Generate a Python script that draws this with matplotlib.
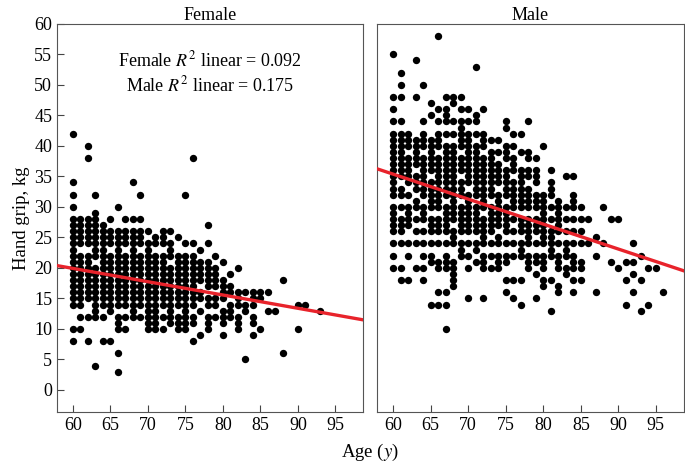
import numpy as np
import matplotlib.pyplot as plt

# hand grip values (kg) per age (years)
female = {
    60: [42, 34, 32, 30, 28, 27, 26, 25, 24, 23, 22, 21, 20, 19, 18, 17, 16, 15, 14, 10, 8],
    61: [28, 27, 26, 25, 24, 22, 21, 20, 19, 18, 17, 16, 15, 14, 12, 10],
    62: [40, 38, 28, 27, 26, 25, 24, 22, 21, 20, 19, 18, 17, 16, 15, 12, 8],
    63: [32, 29, 28, 27, 26, 25, 24, 23, 22, 20, 19, 18, 17, 16, 15, 14, 13, 12, 4],
    64: [27, 26, 25, 24, 23, 22, 21, 20, 19, 18, 17, 16, 15, 14, 12, 8],
    65: [28, 26, 25, 24, 22, 21, 20, 19, 18, 17, 16, 15, 14, 13, 8],
    66: [30, 26, 25, 24, 23, 22, 21, 20, 19, 18, 17, 16, 15, 14, 12, 11, 10, 6, 3],
    67: [28, 26, 25, 24, 22, 21, 20, 19, 18, 17, 16, 15, 14, 12, 10],
    68: [34, 28, 26, 25, 24, 23, 22, 21, 20, 19, 18, 17, 16, 15, 14, 13, 12],
    69: [32, 28, 26, 25, 24, 22, 21, 20, 19, 18, 17, 16, 15, 14, 12],
    70: [26, 24, 23, 22, 21, 20, 19, 18, 17, 16, 15, 14, 13, 12, 11, 10],
    71: [25, 24, 22, 21, 20, 19, 18, 17, 16, 15, 14, 13, 12, 11, 10],
    72: [26, 25, 24, 22, 21, 20, 19, 18, 17, 16, 15, 14, 12, 10],
    73: [26, 24, 23, 22, 20, 19, 18, 17, 16, 15, 14, 13, 12, 11],
    74: [25, 22, 21, 20, 19, 18, 17, 16, 15, 14, 12, 11, 10],
    75: [32, 24, 22, 21, 20, 19, 18, 17, 16, 15, 14, 13, 12, 11, 10],
    76: [38, 24, 22, 21, 20, 19, 18, 17, 16, 15, 14, 12, 11, 8],
    77: [23, 21, 20, 19, 18, 16, 15, 13, 9],
    78: [27, 24, 21, 20, 19, 18, 17, 15, 14, 12, 11, 10],
    79: [22, 20, 19, 18, 17, 15, 14, 12],
    80: [21, 18, 17, 16, 15, 13, 12, 11, 9],
    81: [19, 17, 16, 14, 13, 12],
    82: [20, 16, 15, 14, 12, 11, 10],
    83: [16, 14, 13, 5],
    84: [16, 15, 14, 12, 11, 9],
    85: [16, 15, 10],
    86: [16, 13],
    87: [13],
    88: [18, 6],
    90: [14, 10],
    91: [14],
    93: [13],
}

male = {
    60: [55, 48, 46, 44, 42, 41, 40, 39, 38, 37, 36, 35, 34, 33, 32, 30, 29, 28, 27, 26, 24, 22, 20],
    61: [52, 50, 48, 44, 42, 41, 40, 39, 38, 37, 36, 35, 33, 32, 30, 28, 27, 26, 24, 20, 18],
    62: [42, 41, 40, 38, 37, 36, 35, 34, 32, 30, 29, 28, 27, 24, 22, 18],
    63: [54, 48, 41, 40, 39, 38, 37, 35, 34, 33, 31, 30, 28, 26, 24, 20],
    64: [50, 44, 42, 41, 40, 38, 37, 36, 35, 34, 33, 32, 30, 29, 28, 26, 24, 22, 20, 18],
    65: [47, 45, 41, 40, 39, 38, 37, 36, 34, 33, 32, 31, 30, 28, 27, 26, 24, 22, 21, 14],
    66: [58, 46, 44, 42, 41, 40, 38, 37, 36, 35, 34, 33, 32, 31, 30, 28, 27, 26, 24, 21, 20, 16, 14],
    67: [48, 46, 45, 44, 42, 40, 39, 38, 37, 36, 35, 34, 33, 32, 30, 29, 28, 27, 26, 24, 22, 21, 20, 16, 14, 10],
    68: [48, 47, 44, 42, 40, 39, 38, 37, 36, 35, 34, 33, 32, 31, 30, 29, 28, 26, 25, 24, 21, 20, 19, 18, 17],
    69: [48, 46, 44, 43, 42, 41, 40, 38, 37, 36, 34, 33, 32, 30, 29, 28, 27, 26, 24, 23, 22],
    70: [46, 44, 42, 41, 40, 39, 38, 37, 36, 35, 34, 32, 31, 30, 29, 28, 27, 26, 24, 22, 20, 15],
    71: [53, 45, 44, 42, 40, 39, 38, 37, 36, 35, 34, 33, 32, 30, 29, 28, 27, 26, 24, 23, 21],
    72: [46, 42, 41, 40, 38, 37, 36, 35, 34, 33, 32, 31, 30, 28, 27, 26, 25, 24, 22, 21, 20, 15],
    73: [41, 39, 38, 37, 36, 35, 34, 33, 32, 30, 29, 28, 27, 26, 24, 22, 20],
    74: [41, 39, 37, 36, 35, 34, 32, 31, 30, 29, 28, 27, 25, 24, 22, 21, 20],
    75: [44, 43, 40, 39, 38, 36, 35, 34, 33, 32, 30, 29, 28, 27, 26, 24, 22, 21, 18, 16],
    76: [42, 40, 38, 37, 36, 34, 33, 32, 31, 30, 28, 26, 24, 22, 18, 15],
    77: [42, 39, 36, 35, 34, 33, 32, 31, 30, 28, 27, 26, 24, 23, 22, 18, 14],
    78: [44, 39, 38, 36, 35, 33, 32, 31, 30, 28, 27, 26, 25, 24, 22, 21, 20],
    79: [38, 36, 35, 34, 32, 31, 30, 28, 27, 26, 24, 22, 21, 19, 15],
    80: [40, 32, 31, 30, 29, 28, 27, 26, 25, 24, 22, 21, 20, 18, 17],
    81: [36, 34, 33, 32, 30, 28, 26, 25, 24, 23, 22, 18, 13],
    82: [31, 30, 29, 28, 27, 26, 24, 22, 21, 20, 17, 16],
    83: [35, 30, 28, 26, 24, 23, 22, 20, 19],
    84: [35, 32, 31, 30, 28, 26, 24, 22, 21, 20, 18, 16],
    85: [30, 28, 26, 24, 21, 20, 18],
    86: [28, 24],
    87: [25, 22, 16],
    88: [30, 24],
    89: [28, 21],
    90: [28, 20],
    91: [21, 18, 14],
    92: [24, 21, 19, 16],
    93: [22, 18, 13],
    94: [20, 14],
    95: [20],
    96: [16],
}

# linear fits (intercept, slope)
fit_female = (33.0, -0.218)
fit_male = (59.9, -0.409)

r2_text = ["Female $R^2$ linear = 0.092", "Male $R^2$ linear = 0.175"]
xticks = [60, 65, 70, 75, 80, 85, 90, 95]
yticks = list(range(0, 61, 5))

plt.rcParams['font.family'] = 'Liberation Serif'
plt.rcParams['mathtext.fontset'] = 'stix'

fig = plt.figure(figsize=(6.85, 4.67), dpi=100)
ax1 = fig.add_axes([0.0832, 0.118, 0.447, 0.831])
ax2 = fig.add_axes([0.551, 0.118, 0.447, 0.831])


def to_xy(d):
    xs, ys = [], []
    for age, vals in d.items():
        xs += [age] * len(vals)
        ys += vals
    return np.array(xs), np.array(ys)


for ax, d, fit, title in [(ax1, female, fit_female, 'Female'),
                          (ax2, male, fit_male, 'Male')]:
    x, y = to_xy(d)
    ax.scatter(x, y, s=28, color='black', linewidths=0, zorder=2)
    ax.axline((0, fit[0]), slope=fit[1], color='#e8232b', lw=2.4, zorder=3)
    ax.set_xlim(57.9, 98.7)
    ax.set_ylim(-3.6, 60)
    ax.set_xticks(xticks)
    ax.set_yticks(yticks)
    ax.tick_params(direction='in', length=5, labelsize=13, color='#444444')
    ax.set_title(title, fontsize=13, pad=3)
    for s in ax.spines.values():
        s.set_color('#555555')

ax2.tick_params(axis='y', left=False, labelleft=False)
ax1.set_ylabel('Hand grip, kg', fontsize=13.5, labelpad=3)

ax1.text(0.5, 0.905, r2_text[0], transform=ax1.transAxes, ha='center', va='center', fontsize=13)
ax1.text(0.5, 0.842, r2_text[1], transform=ax1.transAxes, ha='center', va='center', fontsize=13)

fig.text(0.54, 0.032, 'Age ($y$)', ha='center', va='center', fontsize=13.5)

plt.savefig('out.png', dpi=100)
